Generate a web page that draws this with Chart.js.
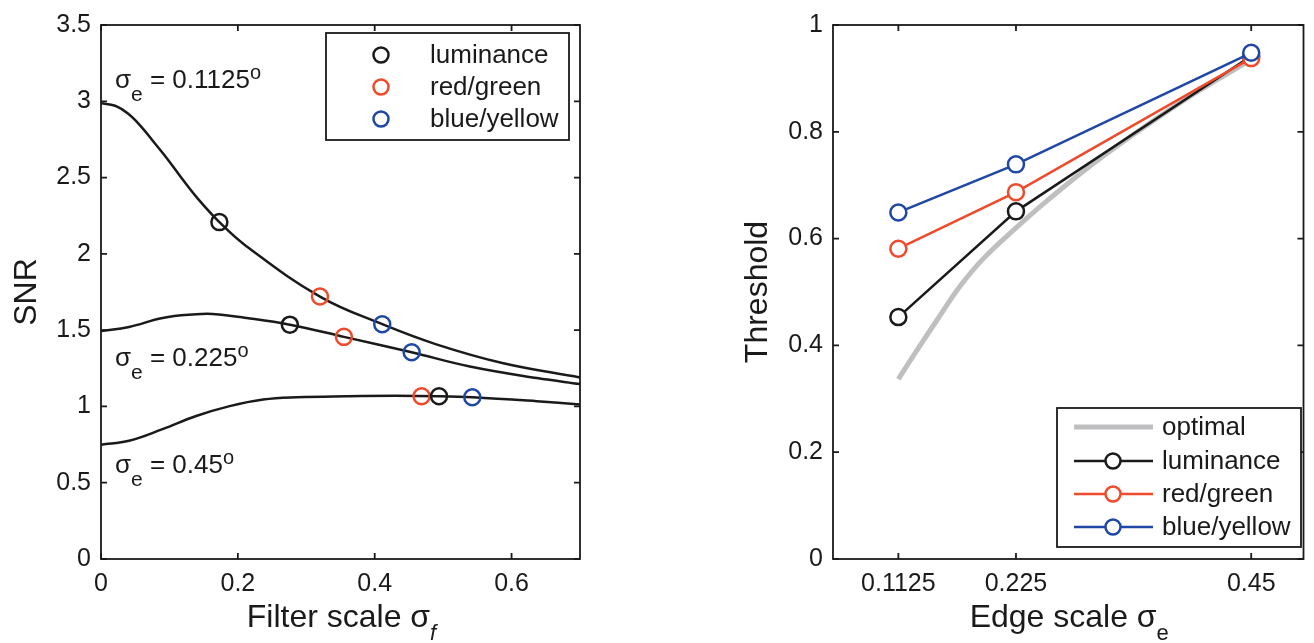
<!DOCTYPE html>
<html>
<head>
<meta charset="utf-8">
<script src="https://cdn.jsdelivr.net/npm/chart.js@4.4.1/dist/chart.umd.min.js"></script>
<style>
  html, body { margin: 0; padding: 0; background: #fff; width: 1314px; height: 643px; overflow: hidden; }
  #snrBox { position: absolute; left: 0; top: 0; width: 660px; height: 643px; }
  #thrBox { position: absolute; left: 660px; top: 0; width: 654px; height: 643px; }
</style>
</head>
<body>
<div id="snrBox"><canvas id="snr" width="660" height="643"></canvas></div>
<div id="thrBox"><canvas id="thr" width="654" height="643"></canvas></div>
<script>
const FONT = '"Liberation Sans", Arial, Helvetica, sans-serif';
const INK = '#1a1a1a';
const RED = '#ee4a2b';
const BLUE = '#1f47a5';
const GREY = '#bfbfc2';

// ---- Left panel: SNR against filter scale, one curve per edge scale ----
const filterScaleTicks = [0, 0.2, 0.4, 0.6];
const filterScaleTickLabels = ['0', '0.2', '0.4', '0.6'];
const snrTicks = [0, 0.5, 1, 1.5, 2, 2.5, 3, 3.5];
const snrTickLabels = ['0', '0.5', '1', '1.5', '2', '2.5', '3', '3.5'];

const curveX_e01125 = [0, 0.0205, 0.0398, 0.0593, 0.0789, 0.0984, 0.118, 0.142, 0.173, 0.212, 0.320, 0.411, 0.490, 0.588, 0.700];
const curveSNR_e01125 = [2.987, 2.971, 2.918, 2.831, 2.723, 2.614, 2.495, 2.359, 2.208, 2.052, 1.720, 1.539, 1.407, 1.283, 1.190];

const curveX_e0225 = [0, 0.041, 0.090, 0.139, 0.163, 0.213, 0.276, 0.355, 0.454, 0.539, 0.637, 0.700];
const curveSNR_e0225 = [1.494, 1.521, 1.580, 1.604, 1.606, 1.580, 1.536, 1.456, 1.355, 1.262, 1.186, 1.147];

const curveX_e045 = [0, 0.041, 0.090, 0.139, 0.188, 0.237, 0.286, 0.359, 0.430, 0.494, 0.543, 0.637, 0.700];
const curveSNR_e045 = [0.749, 0.775, 0.851, 0.937, 1.002, 1.045, 1.060, 1.067, 1.070, 1.067, 1.060, 1.034, 1.013];

const curveLabels = ['0.1125', '0.225', '0.45'];

// best filter scale per channel (one point per edge scale)
const lumFilterX = [0.173, 0.276, 0.494];
const lumSNR = [2.208, 1.536, 1.067];
const rgFilterX = [0.320, 0.355, 0.4685];
const rgSNR = [1.720, 1.456, 1.067];
const byFilterX = [0.411, 0.454, 0.5426];
const bySNR = [1.539, 1.355, 1.060];

// ---- Right panel: threshold against edge scale ----
const edgeScales = [0.1125, 0.225, 0.45];
const edgeTickLabels = ['0.1125', '0.225', '0.45'];
const thresholdTicks = [0, 0.2, 0.4, 0.6, 0.8, 1];
const thresholdTickLabels = ['0', '0.2', '0.4', '0.6', '0.8', '1'];

const optimalX = [0.1125, 0.1313, 0.150, 0.172, 0.194, 0.225, 0.256, 0.300, 0.350, 0.400, 0.450];
const optimalThr = [0.337, 0.394, 0.449, 0.512, 0.563, 0.620, 0.673, 0.742, 0.812, 0.877, 0.935];
const lumThr = [0.453, 0.651, 0.942];
const rgThr = [0.581, 0.687, 0.938];
const byThr = [0.649, 0.739, 0.948];

const pts = (xs, ys) => xs.map((x, i) => ({ x: x, y: ys[i] }));

function fontStr(size, italic) {
  return (italic ? 'italic ' : '') + size + 'px ' + FONT;
}

// draws a run of text pieces: [text, size, dy, italic]
function richText(ctx, x, y, parts, align) {
  let w = 0;
  parts.forEach(p => { ctx.font = fontStr(p[1], p[3]); w += ctx.measureText(p[0]).width; });
  let cx = align === 'center' ? x - w / 2 : x;
  ctx.textAlign = 'left';
  ctx.textBaseline = 'alphabetic';
  parts.forEach(p => {
    ctx.font = fontStr(p[1], p[3]);
    ctx.fillText(p[0], cx, y + p[2]);
    cx += ctx.measureText(p[0]).width;
  });
}

// box frame with inward tick marks on all four sides
const framePlugin = {
  id: 'frame',
  afterDatasetsDraw(chart) {
    const { ctx, chartArea: a } = chart;
    const xs = chart.scales.x, ys = chart.scales.y;
    const L = 6;
    ctx.save();
    ctx.strokeStyle = INK;
    ctx.lineWidth = 1.8;
    ctx.beginPath();
    xs.ticks.forEach(t => {
      const p = xs.getPixelForValue(t.value);
      ctx.moveTo(p, a.bottom); ctx.lineTo(p, a.bottom - L);
      ctx.moveTo(p, a.top); ctx.lineTo(p, a.top + L);
    });
    ys.ticks.forEach(t => {
      const p = ys.getPixelForValue(t.value);
      ctx.moveTo(a.left, p); ctx.lineTo(a.left + L, p);
      ctx.moveTo(a.right, p); ctx.lineTo(a.right - L, p);
    });
    ctx.stroke();
    ctx.strokeRect(a.left, a.top, a.right - a.left, a.bottom - a.top);
    ctx.restore();
  }
};

// axis titles with sub/superscripts
const titlesPlugin = {
  id: 'titles',
  afterDraw(chart, args, opts) {
    const ctx = chart.ctx;
    const a = chart.chartArea;
    ctx.save();
    ctx.fillStyle = INK;
    richText(ctx, (a.left + a.right) / 2 + 1, 627, [[opts.xTitle, 32, 0], [opts.xSub, 22, 13, opts.xSubItalic]], 'center');
    ctx.translate(opts.yTitleX, (a.top + a.bottom) / 2);
    ctx.rotate(-Math.PI / 2);
    ctx.font = fontStr(32);
    ctx.textAlign = 'center';
    ctx.textBaseline = 'middle';
    ctx.fillText(opts.yTitle, 0, 0);
    ctx.restore();
  }
};

// edge-scale labels beside the SNR curves
const curveLabelPlugin = {
  id: 'curveLabels',
  afterDraw(chart, args, opts) {
    const ctx = chart.ctx;
    ctx.save();
    ctx.fillStyle = INK;
    opts.items.forEach(it => {
      richText(ctx, it.x, it.y, [['σ', 26, 0], ['e', 21, 13], [' = ' + it.text, 26, 0], ['o', 20, -9]]);
    });
    ctx.restore();
  }
};

// boxed legend inside the plot
const boxLegendPlugin = {
  id: 'boxLegend',
  afterDraw(chart, args, opts) {
    const ctx = chart.ctx;
    const b = opts.box;
    ctx.save();
    ctx.fillStyle = '#fff';
    ctx.fillRect(b.x, b.y, b.w, b.h);
    ctx.strokeStyle = INK;
    ctx.lineWidth = 1.8;
    ctx.strokeRect(b.x, b.y, b.w, b.h);
    const items = chart.data.datasets.filter(d => d.legendRow !== undefined)
      .sort((p, q) => p.legendRow - q.legendRow);
    items.forEach((d, i) => {
      const y = opts.rowY[i];
      if (opts.lines) {
        ctx.strokeStyle = d.borderColor;
        ctx.lineWidth = d.borderWidth;
        ctx.beginPath();
        ctx.moveTo(opts.lineX0, y); ctx.lineTo(opts.lineX1, y);
        ctx.stroke();
      }
      if (d.pointRadius > 0) {
        ctx.strokeStyle = d.pointBorderColor || d.borderColor;
        ctx.lineWidth = 2.5;
        ctx.fillStyle = '#fff';
        ctx.beginPath();
        ctx.arc(opts.markerX, y, 7.5, 0, Math.PI * 2);
        if (opts.lines) ctx.fill();
        ctx.stroke();
      }
      ctx.fillStyle = INK;
      ctx.font = fontStr(26);
      ctx.textAlign = 'left';
      ctx.textBaseline = 'middle';
      ctx.fillText(d.label, opts.textX, y + 1);
    });
    ctx.restore();
  }
};

function axisTicks(values, labels, extra) {
  return Object.assign({
    grid: { display: false, drawTicks: false },
    border: { display: false },
    afterBuildTicks: s => { s.ticks = values.map(v => ({ value: v })); },
    ticks: {
      color: INK,
      font: { family: FONT, size: 25 },
      maxRotation: 0,
      autoSkip: false,
      callback: (v, i) => labels[i]
    }
  }, extra);
}

function curveDataset(xs, ys) {
  return {
    data: pts(xs, ys),
    showLine: true,
    borderColor: INK,
    borderWidth: 2.5,
    pointRadius: 0,
    tension: 0.4,
    order: 5
  };
}

function markerDataset(label, xs, ys, color, order, row) {
  return {
    label: label,
    legendRow: row,
    data: pts(xs, ys),
    showLine: false,
    borderColor: color,
    pointBorderColor: color,
    backgroundColor: 'rgba(0,0,0,0)',
    pointBackgroundColor: 'rgba(0,0,0,0)',
    pointRadius: 8,
    pointBorderWidth: 2.5,
    borderWidth: 2.5,
    order: order
  };
}

const snrX = axisTicks(filterScaleTicks, filterScaleTickLabels, {
  type: 'linear', min: 0, max: 0.7,
  afterFit: s => { s.height = 84; }
});
snrX.ticks.padding = 10;
const snrY = axisTicks(snrTicks, snrTickLabels, {
  type: 'linear', min: 0, max: 3.5,
  afterFit: s => { s.width = 101; }
});
snrY.ticks.padding = 10;

new Chart(document.getElementById('snr'), {
  type: 'scatter',
  data: {
    datasets: [
      curveDataset(curveX_e01125, curveSNR_e01125),
      curveDataset(curveX_e0225, curveSNR_e0225),
      curveDataset(curveX_e045, curveSNR_e045),
      markerDataset('luminance', lumFilterX, lumSNR, INK, 1, 0),
      markerDataset('red/green', rgFilterX, rgSNR, RED, 2, 1),
      markerDataset('blue/yellow', byFilterX, bySNR, BLUE, 3, 2)
    ]
  },
  options: {
    responsive: false,
    animation: false,
    layout: { padding: { left: 0, top: 20, right: 80, bottom: 0 } },
    scales: { x: snrX, y: snrY },
    plugins: {
      legend: { display: false },
      tooltip: { enabled: false },
      titles: { xTitle: 'Filter scale σ', xSub: 'f', xSubItalic: true, yTitle: 'SNR', yTitleX: 27 },
      curveLabels: {
        items: [
          { text: curveLabels[0], x: 115, y: 88 },
          { text: curveLabels[1], x: 115, y: 366 },
          { text: curveLabels[2], x: 115, y: 473 }
        ]
      },
      boxLegend: {
        box: { x: 326, y: 33, w: 243, h: 107 },
        rowY: [55, 87, 119],
        lines: false,
        markerX: 381,
        textX: 430
      }
    }
  },
  plugins: [framePlugin, titlesPlugin, curveLabelPlugin, boxLegendPlugin]
});

const thrX = axisTicks(edgeScales, edgeTickLabels, {
  type: 'linear', min: 0.05, max: 0.5,
  afterFit: s => { s.height = 84; }
});
thrX.ticks.padding = 10;
const thrY = axisTicks(thresholdTicks, thresholdTickLabels, {
  type: 'linear', min: 0, max: 1,
  afterFit: s => { s.width = 173; }
});
thrY.ticks.padding = 10;

function channelLine(label, ys, color, order, row) {
  return {
    label: label,
    legendRow: row,
    data: pts(edgeScales, ys),
    showLine: true,
    borderColor: color,
    borderWidth: 2.5,
    pointRadius: 8,
    pointBorderWidth: 2.5,
    pointBorderColor: color,
    pointBackgroundColor: '#fff',
    backgroundColor: '#fff',
    tension: 0,
    order: order
  };
}

new Chart(document.getElementById('thr'), {
  type: 'scatter',
  data: {
    datasets: [
      {
        label: 'optimal',
        legendRow: 0,
        data: pts(optimalX, optimalThr),
        showLine: true,
        borderColor: GREY,
        borderWidth: 5,
        pointRadius: 0,
        tension: 0.4,
        order: 9
      },
      channelLine('luminance', lumThr, INK, 3, 1),
      channelLine('red/green', rgThr, RED, 2, 2),
      channelLine('blue/yellow', byThr, BLUE, 1, 3)
    ]
  },
  options: {
    responsive: false,
    animation: false,
    layout: { padding: { left: 0, top: 20, right: 1, bottom: 0 } },
    scales: { x: thrX, y: thrY },
    plugins: {
      legend: { display: false },
      tooltip: { enabled: false },
      titles: { xTitle: 'Edge scale σ', xSub: 'e', xSubItalic: false, yTitle: 'Threshold', yTitleX: 98 },
      boxLegend: {
        box: { x: 397, y: 408, w: 244, h: 139 },
        rowY: [427, 461, 494, 527],
        lines: true,
        lineX0: 414,
        lineX1: 493,
        markerX: 453,
        textX: 502
      }
    }
  },
  plugins: [framePlugin, titlesPlugin, boxLegendPlugin]
});
</script>
</body>
</html>
